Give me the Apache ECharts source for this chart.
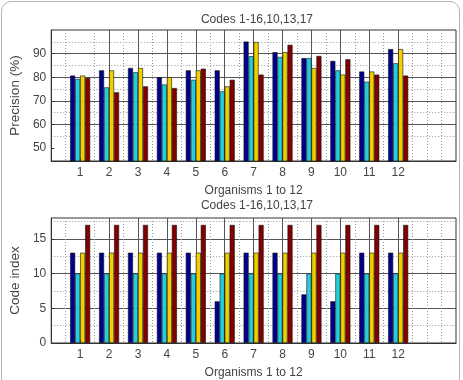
<!DOCTYPE html>
<html>
<head>
<meta charset="utf-8">
<script src="https://cdn.jsdelivr.net/npm/echarts@6/dist/echarts.min.js"></script>
<style>
  html, body { margin: 0; padding: 0; background: #fff; }
  #frame {
    position: absolute; left: 1px; top: 1px; width: 459px; height: 390px;
    border: 1.5px solid #b4b4b4; border-radius: 10px; box-sizing: border-box;
  }
  #main { position: absolute; left: 0; top: 0; width: 463px; height: 380px; }
</style>
</head>
<body>
<div id="frame"></div>
<div id="main"></div>
<script>
// organisms 1..12
var organisms = [1, 2, 3, 4, 5, 6, 7, 8, 9, 10, 11, 12];

// precision (%) per code set, top panel
var precBlue   = [80.7, 82.9, 83.9, 80.0, 82.9, 82.9, 95.1, 90.6, 88.1, 86.9, 82.4, 91.9];
var precCyan   = [79.3, 75.7, 82.1, 76.9, 78.9, 74.0, 88.9, 88.6, 88.1, 82.9, 78.1, 85.9];
var precYellow = [80.7, 82.9, 83.9, 80.0, 82.9, 76.1, 94.9, 90.6, 83.9, 81.1, 82.4, 91.9];
var precRed    = [79.7, 73.6, 76.1, 75.4, 83.6, 78.9, 81.1, 93.7, 89.0, 87.6, 81.1, 80.7];

// code index per code set, bottom panel
var codeBlue   = [13, 13, 13, 13, 13, 6, 13, 13, 7, 6, 13, 13];
var codeCyan   = [10, 10, 10, 10, 10, 10, 10, 10, 10, 10, 10, 10];
var codeYellow = [13, 13, 13, 13, 13, 13, 13, 13, 13, 13, 13, 13];
var codeRed    = [17, 17, 17, 17, 17, 17, 17, 17, 17, 17, 17, 17];

// ticks / grid
var xTicks = organisms;
var xMinorGrid = [0.5, 1.5, 2.5, 3.5, 4.5, 5.5, 6.5, 7.5, 8.5, 9.5, 10.5, 11.5, 12.5, 13, 13.5];
var precTicks = [50, 60, 70, 80, 90];
var precMinorGrid = [45, 55, 65, 75, 85, 95];
var codeTicks = [0, 5, 10, 15];
var codeMinorGrid = [2.5, 7.5, 12.5, 17.5];

var colors = ['#00008c', '#22cfe0', '#f2d000', '#820000'];
var txt = '#444';
var font = 'Liberation Sans';

function pairs(vals) {
  return organisms.map(function (o, i) { return [o, vals[i]]; });
}

function mainX(gi) {
  return {
    type: 'value', gridIndex: gi, min: 0, max: 14,
    name: 'Organisms 1 to 12', nameLocation: 'middle', nameGap: 24,
    nameTextStyle: { color: txt, fontSize: 12, fontFamily: font },
    axisLine: { lineStyle: { color: '#333', width: 1 } },
    axisTick: { inside: true, length: 3, customValues: xTicks, lineStyle: { color: '#333' } },
    axisLabel: { customValues: xTicks, color: txt, fontSize: 12, fontFamily: font, margin: 6 },
    splitLine: { show: true, showMinLine: false, lineStyle: { color: '#555', width: 1 } }
  };
}
function minorX(gi) {
  return {
    type: 'value', gridIndex: gi, min: 0, max: 14,
    axisLine: { show: false },
    axisTick: { show: false, customValues: xMinorGrid },
    axisLabel: { show: false },
    splitLine: { show: true, lineStyle: { color: '#999', width: 1, type: [1, 2] } }
  };
}
function mainY(gi, name, min, max, ticks) {
  return {
    type: 'value', gridIndex: gi, min: min, max: max,
    name: name, nameLocation: 'middle', nameGap: 23,
    nameTextStyle: { color: txt, fontSize: 13.5, fontFamily: font },
    axisLine: { show: true, lineStyle: { color: '#333', width: 1 } },
    axisTick: { show: true, inside: true, length: 3, customValues: ticks, lineStyle: { color: '#333' } },
    axisLabel: { customValues: ticks, color: txt, fontSize: 12, fontFamily: font, margin: 5 },
    splitLine: { show: true, showMinLine: false, lineStyle: { color: '#555', width: 1 } }
  };
}
function minorY(gi, min, max, ticks) {
  return {
    type: 'value', gridIndex: gi, min: min, max: max,
    axisLine: { show: false },
    axisTick: { show: false, customValues: ticks },
    axisLabel: { show: false },
    splitLine: { show: true, lineStyle: { color: '#999', width: 1, type: [1, 2] } }
  };
}
function bars(vals, ci, axisIdx) {
  return {
    type: 'bar', xAxisIndex: axisIdx, yAxisIndex: axisIdx,
    data: pairs(vals), barWidth: 5, barGap: '0%',
    itemStyle: { color: colors[ci], borderColor: '#111', borderWidth: 0.6 },
    silent: true
  };
}

var chart = echarts.init(document.getElementById('main'), null, { renderer: 'canvas' });
var option = {
  animation: false,
  textStyle: { fontFamily: font },
  title: [
    { text: 'Codes 1-16,10,13,17', left: 252, textAlign: 'center', top: 9,
      textStyle: { color: txt, fontSize: 12, fontWeight: 'normal', fontFamily: font } },
    { text: 'Codes 1-16,10,13,17', left: 252, textAlign: 'center', top: 195,
      textStyle: { color: txt, fontSize: 12, fontWeight: 'normal', fontFamily: font } }
  ],
  grid: [
    { left: 48, right: 7, top: 30, height: 131, show: true, borderColor: '#333', borderWidth: 1, backgroundColor: '#fff' },
    { left: 48, right: 7, top: 218, height: 131, show: true, borderColor: '#333', borderWidth: 1, backgroundColor: '#fff' }
  ],
  xAxis: [mainX(0), minorX(0), mainX(1), minorX(1)],
  yAxis: [
    mainY(0, 'Precision (%)', 44.5, 100, precTicks),
    minorY(0, 44.5, 100, precMinorGrid),
    mainY(1, 'Code index', 0, 18, codeTicks),
    minorY(1, 0, 18, codeMinorGrid)
  ],
  series: [
    bars(precBlue, 0, 0), bars(precCyan, 1, 0), bars(precYellow, 2, 0), bars(precRed, 3, 0),
    bars(codeBlue, 0, 2), bars(codeCyan, 1, 2), bars(codeYellow, 2, 2), bars(codeRed, 3, 2)
  ]
};
chart.setOption(option);
</script>
</body>
</html>
